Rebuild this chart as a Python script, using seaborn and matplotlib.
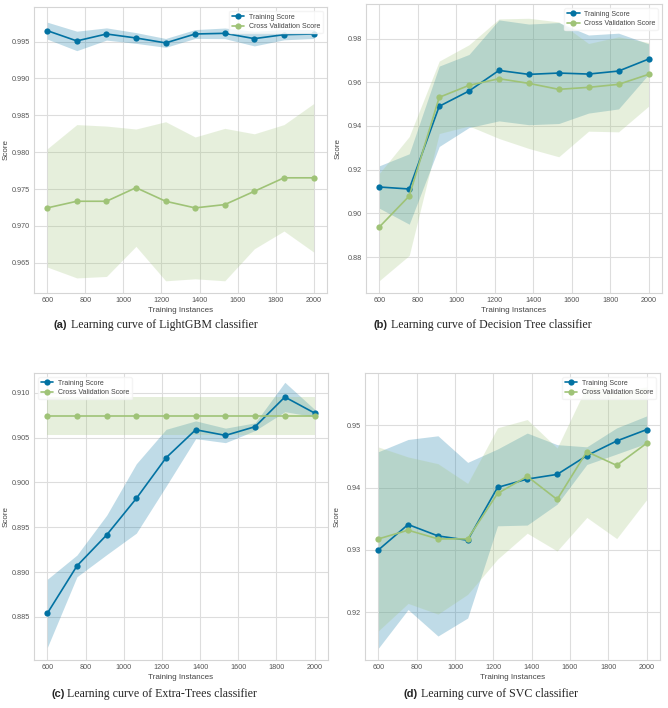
import numpy as np
import matplotlib
matplotlib.use("Agg")
import matplotlib.pyplot as plt
import seaborn as sns

# training set sizes (x axis)
train_sizes = [600, 755, 911, 1066, 1222, 1377, 1533, 1688, 1844, 2000]

# (a) LightGBM
lgbm_train_mean = [0.99648, 0.99509, 0.99603, 0.99549, 0.99482, 0.99603, 0.99612, 0.99540, 0.99594, 0.99603]
lgbm_train_std = [0.00115, 0.00132, 0.00083, 0.00073, 0.00060, 0.00060, 0.00072, 0.00099, 0.00070, 0.00061]
lgbm_cv_mean = [0.97244, 0.97334, 0.97334, 0.97518, 0.97334, 0.97244, 0.97289, 0.97469, 0.97652, 0.97652]
lgbm_cv_std = [0.00803, 0.01040, 0.01020, 0.00796, 0.01079, 0.00962, 0.01034, 0.00780, 0.00722, 0.01007]

# (b) Decision Tree
dt_train_mean = [0.91207, 0.91116, 0.94900, 0.95599, 0.96541, 0.96359, 0.96420, 0.96374, 0.96511, 0.97058]
dt_train_std = [0.00973, 0.01611, 0.01839, 0.01672, 0.02310, 0.02303, 0.02310, 0.01786, 0.01733, 0.00699]
dt_cv_mean = [0.89383, 0.90796, 0.95310, 0.95857, 0.96161, 0.95948, 0.95675, 0.95766, 0.95903, 0.96359]
dt_cv_std = [0.02455, 0.02720, 0.01657, 0.01857, 0.02735, 0.02978, 0.03085, 0.02006, 0.02173, 0.01459]

# (c) Extra-Trees
et_train_mean = [0.88541, 0.89069, 0.89415, 0.89821, 0.90275, 0.90587, 0.90524, 0.90621, 0.90952, 0.90773]
et_train_std = [0.00380, 0.00121, 0.00220, 0.00387, 0.00317, 0.00099, 0.00081, 0.00043, 0.00164, 0.00041]
et_cv_mean = [0.9074, 0.9074, 0.9074, 0.9074, 0.9074, 0.9074, 0.9074, 0.9074, 0.9074, 0.9074]
et_cv_std = [0.00216, 0.00216, 0.00216, 0.00216, 0.00216, 0.00216, 0.00216, 0.00216, 0.00216, 0.00216]

# (d) SVC
svc_train_mean = [0.92998, 0.93406, 0.93223, 0.93154, 0.94002, 0.94136, 0.94211, 0.94512, 0.94748, 0.94930]
svc_train_std = [0.01578, 0.01366, 0.01608, 0.01250, 0.00617, 0.00739, 0.00478, 0.00142, 0.00210, 0.00220]
svc_cv_mean = [0.93175, 0.93315, 0.93175, 0.93175, 0.93905, 0.94179, 0.93808, 0.94576, 0.94356, 0.94710]
svc_cv_std = [0.01476, 0.01176, 0.01208, 0.00891, 0.01055, 0.00913, 0.00827, 0.01057, 0.01176, 0.00907]

TRAIN_COLOR = "#0272a2"
CV_COLOR = "#9fc377"

sns.set_theme(style="whitegrid")
plt.rcParams["font.family"] = ["Liberation Sans", "DejaVu Sans"]

fig = plt.figure(figsize=(6.68, 7.08), dpi=100)

# -------------------------
# panel geometry (figure fractions)
# -------------------------
panels = [
    dict(rect=[0.0509, 0.5862, 0.4386, 0.4040], ylim=(0.9609, 0.9997), loc="upper right",
         train=(lgbm_train_mean, lgbm_train_std), cv=(lgbm_cv_mean, lgbm_cv_std),
         tag="(a)", caption="Learning curve of LightGBM classifier", cap_xy=(54, 325)),
    dict(rect=[0.5479, 0.5862, 0.4431, 0.4082], ylim=(0.8636, 0.9958), loc="upper right",
         train=(dt_train_mean, dt_train_std), cv=(dt_cv_mean, dt_cv_std),
         tag="(b)", caption="Learning curve of Decision Tree classifier", cap_xy=(374, 325)),
    dict(rect=[0.0509, 0.0678, 0.4401, 0.4054], ylim=(0.8802, 0.9122), loc="upper left",
         train=(et_train_mean, et_train_std), cv=(et_cv_mean, et_cv_std),
         tag="(c)", caption="Learning curve of Extra-Trees classifier", cap_xy=(51, 694)),
    dict(rect=[0.5464, 0.0678, 0.4416, 0.4054], ylim=(0.9123, 0.9584), loc="upper right",
         train=(svc_train_mean, svc_train_std), cv=(svc_cv_mean, svc_cv_std),
         tag="(d)", caption="Learning curve of SVC classifier", cap_xy=(404, 694)),
]

W, H = 668, 708

for p in panels:
    ax = fig.add_axes(p["rect"])
    x = np.array(train_sizes)
    tm, ts = np.array(p["train"][0]), np.array(p["train"][1])
    cm, cs = np.array(p["cv"][0]), np.array(p["cv"][1])

    ax.fill_between(x, tm - ts, tm + ts, color=TRAIN_COLOR, alpha=0.25, linewidth=0)
    ax.fill_between(x, cm - cs, cm + cs, color=CV_COLOR, alpha=0.25, linewidth=0)
    sns.lineplot(x=x, y=tm, ax=ax, color=TRAIN_COLOR, marker="o", markersize=4.5,
                 markeredgewidth=0, linewidth=1.2, label="Training Score")
    sns.lineplot(x=x, y=cm, ax=ax, color=CV_COLOR, marker="o", markersize=4.5,
                 markeredgewidth=0, linewidth=1.2, label="Cross Validation Score")

    ax.set_xticks([600, 800, 1000, 1200, 1400, 1600, 1800, 2000])
    ax.set_xlim(530, 2070)
    ax.set_ylim(*p["ylim"])
    ax.set_xlabel("Training Instances", fontsize=5.8, color="#444444", labelpad=2)
    ax.set_ylabel("Score", fontsize=5.8, color="#444444")
    ax.yaxis.set_label_coords(-0.082, 0.5)
    ax.tick_params(axis="both", labelsize=5.2, colors="#555555", pad=3, length=0)
    ax.grid(True, color="#dddddd", linewidth=0.8)
    for s in ax.spines.values():
        s.set_color("#d5d5d5")
        s.set_linewidth(0.8)
    leg = ax.legend(loc=p["loc"], fontsize=5.0, frameon=True, framealpha=0.8,
                    facecolor="white", edgecolor="#f2f2f2", borderpad=0.4,
                    handlelength=1.8, handletextpad=0.6, labelspacing=0.35,
                    borderaxespad=0.6)
    for t in leg.get_texts():
        t.set_color("#444444")

    cx, cy = p["cap_xy"]
    t = fig.text(cx / W, 1 - cy / H, p["tag"], fontsize=8.0, fontweight="bold",
                 family=["Liberation Sans", "DejaVu Sans"], va="center", ha="left")
    ax.annotate(" " + p["caption"], xy=(1, 0.5), xycoords=t, va="center", ha="left",
                fontsize=8.6, family=["Liberation Serif", "DejaVu Serif"],
                annotation_clip=False)

fig.savefig("out.png", dpi=100)
